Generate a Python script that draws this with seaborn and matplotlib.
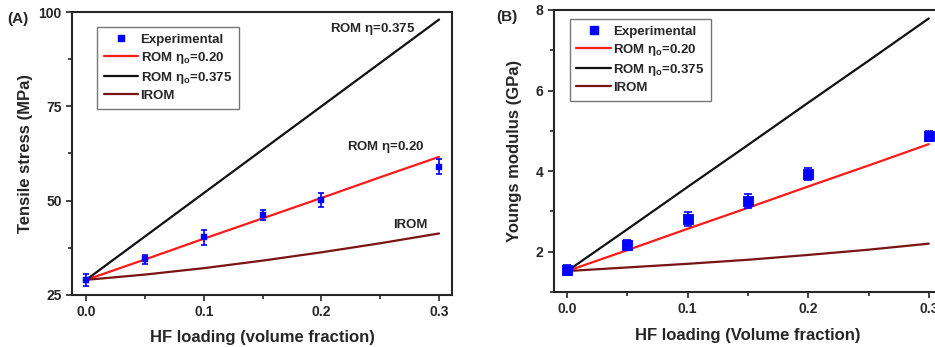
import numpy as np
import pandas as pd
import matplotlib
matplotlib.use('Agg')
import matplotlib.pyplot as plt
from matplotlib.lines import Line2D
from matplotlib.ticker import MultipleLocator
import seaborn as sns

# HF loading (volume fraction)
x_exp = [0.0, 0.05, 0.1, 0.15, 0.2, 0.3]
x_model = [0.0, 0.05, 0.1, 0.15, 0.2, 0.25, 0.3]

# Panel A - tensile stress (MPa)
stress_exp = [29.0, 34.5, 40.3, 46.2, 50.2, 59.0]
stress_err = [1.5, 1.2, 2.0, 1.3, 1.8, 2.0]
stress_rom20 = [29.0, 34.4, 39.9, 45.3, 50.7, 56.2, 61.6]
stress_rom375 = [29.0, 40.5, 52.0, 63.5, 75.0, 86.5, 98.0]
stress_irom = [29.0, 30.4, 32.1, 34.1, 36.3, 38.7, 41.3]

# Panel B - Youngs modulus (GPa)
mod_exp = [1.54, 2.17, 2.82, 3.26, 3.92, 4.87]
mod_err = [0.12, 0.12, 0.17, 0.17, 0.15, 0.13]
mod_rom20 = [1.52, 2.04, 2.57, 3.09, 3.62, 4.14, 4.67]
mod_rom375 = [1.52, 2.56, 3.61, 4.65, 5.70, 6.74, 7.79]
mod_irom = [1.52, 1.61, 1.70, 1.80, 1.92, 2.05, 2.20]

labels = [r'ROM $\mathregular{\eta_o}$=0.20', r'ROM $\mathregular{\eta_o}$=0.375', 'IROM']
colors = {labels[0]: '#ff1a1a', labels[1]: '#111111', labels[2]: '#7a1414'}

sns.set_style('ticks')
plt.rcParams['font.family'] = ['Liberation Sans', 'DejaVu Sans']
plt.rcParams['font.weight'] = 'bold'
plt.rcParams['mathtext.fontset'] = 'dejavusans'


def model_frame(rom20, rom375, irom):
    return pd.DataFrame({
        'x': x_model * 3,
        'y': rom20 + rom375 + irom,
        'model': [labels[0]] * 7 + [labels[1]] * 7 + [labels[2]] * 7,
    })


def draw_panel(ax, y_exp, y_err, rom20, rom375, irom, msize, cap, leg_anchor, leg_ms):
    df = model_frame(rom20, rom375, irom)
    sns.lineplot(data=df, x='x', y='y', hue='model', palette=colors,
                 linewidth=1.6, ax=ax, legend=False)
    ax.errorbar(x_exp, y_exp, yerr=y_err, fmt='none', ecolor='#0000ff',
                elinewidth=1.2, capsize=cap, capthick=1.2, zorder=4)
    sns.scatterplot(x=x_exp, y=y_exp, marker='s', s=msize, color='#0000ff',
                    edgecolor='#0000ff', ax=ax, zorder=5)
    handles = [Line2D([], [], ls='none', marker='s', color='#0000ff', markersize=leg_ms)]
    handles += [Line2D([], [], color=colors[l], lw=1.6) for l in labels]
    leg = ax.legend(handles, ['Experimental'] + labels, loc='upper left',
                    bbox_to_anchor=leg_anchor, borderaxespad=0, fancybox=False,
                    fontsize=9.5, handlelength=2.6, handletextpad=0.2, borderpad=0.5,
                    labelspacing=0.3, edgecolor='#777777', framealpha=1)
    leg.get_frame().set_linewidth(1.0)
    for s in ax.spines.values():
        s.set_linewidth(1.5)
    ax.xaxis.set_major_locator(MultipleLocator(0.1))
    ax.xaxis.set_minor_locator(MultipleLocator(0.05))
    ax.tick_params(which='major', length=4, width=1.2, labelsize=10)
    ax.tick_params(which='minor', length=3, width=1.2)
    ax.set_xticks([0.0, 0.1, 0.2, 0.3])
    ax.set_xticklabels(['0.0', '0.1', '0.2', '0.3'], fontweight='bold')


fig = plt.figure(figsize=(9.35, 3.47), dpi=100)
ax1 = fig.add_axes([0.077, 0.150, 0.4064, 0.8154])
ax2 = fig.add_axes([0.5925, 0.1585, 0.415, 0.8127])

# (A) tensile stress
draw_panel(ax1, stress_exp, stress_err, stress_rom20, stress_rom375, stress_irom,
           14, 2.5, (0.066, 0.947), 4)
ax1.set_xlim(-0.012, 0.311)
ax1.set_ylim(25, 100)
ax1.yaxis.set_minor_locator(MultipleLocator(12.5))
ax1.set_yticks([25, 50, 75, 100])
ax1.set_yticklabels(['25', '50', '75', '100'], fontweight='bold')
ax1.set_xlabel('HF loading (volume fraction)', fontsize=12, fontweight='bold', labelpad=8)
ax1.set_ylabel('Tensile stress (MPa)', fontsize=12, fontweight='bold', labelpad=4)
ax1.text(0.207, 94.6, r'ROM $\mathregular{\eta}$=0.375', fontsize=9.5, fontweight='bold')
ax1.text(0.222, 63.4, r'ROM $\mathregular{\eta}$=0.20', fontsize=9.5, fontweight='bold')
ax1.text(0.261, 42.8, 'IROM', fontsize=9.5, fontweight='bold')
fig.text(0.008, 0.935, '(A)', fontsize=11, fontweight='bold')

# (B) Youngs modulus
draw_panel(ax2, mod_exp, mod_err, mod_rom20, mod_rom375, mod_irom,
           60, 3, (0.041, 0.968), 6)
ax2.set_xlim(-0.011, 0.311)
ax2.set_ylim(1, 8)
ax2.yaxis.set_minor_locator(MultipleLocator(1))
ax2.set_yticks([2, 4, 6, 8])
ax2.set_yticklabels(['2', '4', '6', '8'], fontweight='bold')
ax2.set_xlabel('HF loading (Volume fraction)', fontsize=12, fontweight='bold', labelpad=8)
ax2.set_ylabel('Youngs modulus (GPa)', fontsize=12, fontweight='bold', labelpad=10)
fig.text(0.531, 0.94, '(B)', fontsize=11, fontweight='bold')

fig.savefig('out.png', dpi=100)
